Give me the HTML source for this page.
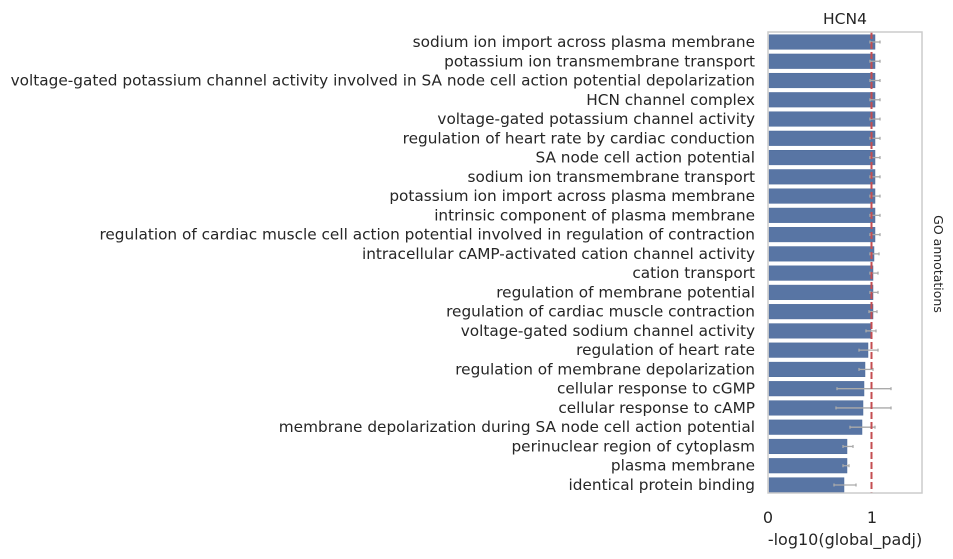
<!DOCTYPE html>
<html><head><meta charset="utf-8"><style>
html,body{margin:0;padding:0;background:#fff;}
svg{display:block;font-family:"DejaVu Sans","Liberation Sans",sans-serif;}
</style></head><body>
<svg width="953" height="559" viewBox="0 0 953 559" xmlns="http://www.w3.org/2000/svg">
<rect x="0" y="0" width="953" height="559" fill="#fff"/>
<g fill="#5875a4" stroke="#4c6a9a" stroke-width="0.5" id="bars"></g>
<g id="err" stroke="#aaaaaa" stroke-width="1.3"></g>
<line x1="871.5" y1="32" x2="871.5" y2="493" stroke="#c44e52" stroke-width="2" stroke-dasharray="7,3"/>
<rect x="768" y="32" width="154" height="461" fill="none" stroke="#cccccc" stroke-width="1.5"/>
<g id="labels" font-size="15.3" fill="#262626" text-anchor="end"></g>
<text x="845" y="24" font-size="15.5" fill="#262626" text-anchor="middle">HCN4</text>
<text x="768" y="523" font-size="16" fill="#262626" text-anchor="middle">0</text>
<text x="872" y="523" font-size="16" fill="#262626" text-anchor="middle">1</text>
<text x="845" y="545" font-size="16" fill="#262626" text-anchor="middle">-log10(global_padj)</text>
<text transform="translate(934,264) rotate(90)" font-size="12.5" fill="#262626" text-anchor="middle">GO annotations</text>
<script>
var L=["sodium ion import across plasma membrane","potassium ion transmembrane transport","voltage-gated potassium channel activity involved in SA node cell action potential depolarization","HCN channel complex","voltage-gated potassium channel activity","regulation of heart rate by cardiac conduction","SA node cell action potential","sodium ion transmembrane transport","potassium ion import across plasma membrane","intrinsic component of plasma membrane","regulation of cardiac muscle cell action potential involved in regulation of contraction","intracellular cAMP-activated cation channel activity","cation transport","regulation of membrane potential","regulation of cardiac muscle contraction","voltage-gated sodium channel activity","regulation of heart rate","regulation of membrane depolarization","cellular response to cGMP","cellular response to cAMP","membrane depolarization during SA node cell action potential","perinuclear region of cytoplasm","plasma membrane","identical protein binding"];
var E=[875,875,875,875,875,875,875,875,875,875,875,874,873,873,873,871,868,865,864,863,862,847,847,844];
var R=[[870,880],[870,880],[870,880],[870,880],[870,880],[870,880],[870,880],[870,880],[870,880],[870,880],[870,880],[870,879],[870,878],[870,878],[869,877],[866,876],[859,878],[859,873],[837,891],[836,891],[850,875],[843,853],[843,849],[834,856]];
var ns="http://www.w3.org/2000/svg",b=document.getElementById("bars"),e=document.getElementById("err"),l=document.getElementById("labels");
for(var i=0;i<24;i++){var c=42+i*19.26;
var r=document.createElementNS(ns,"rect");r.setAttribute("x",769);r.setAttribute("y",c-7.3);r.setAttribute("width",E[i]-769);r.setAttribute("height",14.6);b.appendChild(r);
var ln=document.createElementNS(ns,"line");ln.setAttribute("x1",R[i][0]);ln.setAttribute("x2",R[i][1]);ln.setAttribute("y1",c);ln.setAttribute("y2",c);e.appendChild(ln);
[0,1].forEach(function(k){var t=document.createElementNS(ns,"line");t.setAttribute("x1",R[i][k]);t.setAttribute("x2",R[i][k]);t.setAttribute("y1",c-1.5);t.setAttribute("y2",c+1.5);e.appendChild(t);});
var tx=document.createElementNS(ns,"text");tx.setAttribute("x",755);tx.setAttribute("y",c+5);tx.textContent=L[i];l.appendChild(tx);}
</script>
</svg>
</body></html>
